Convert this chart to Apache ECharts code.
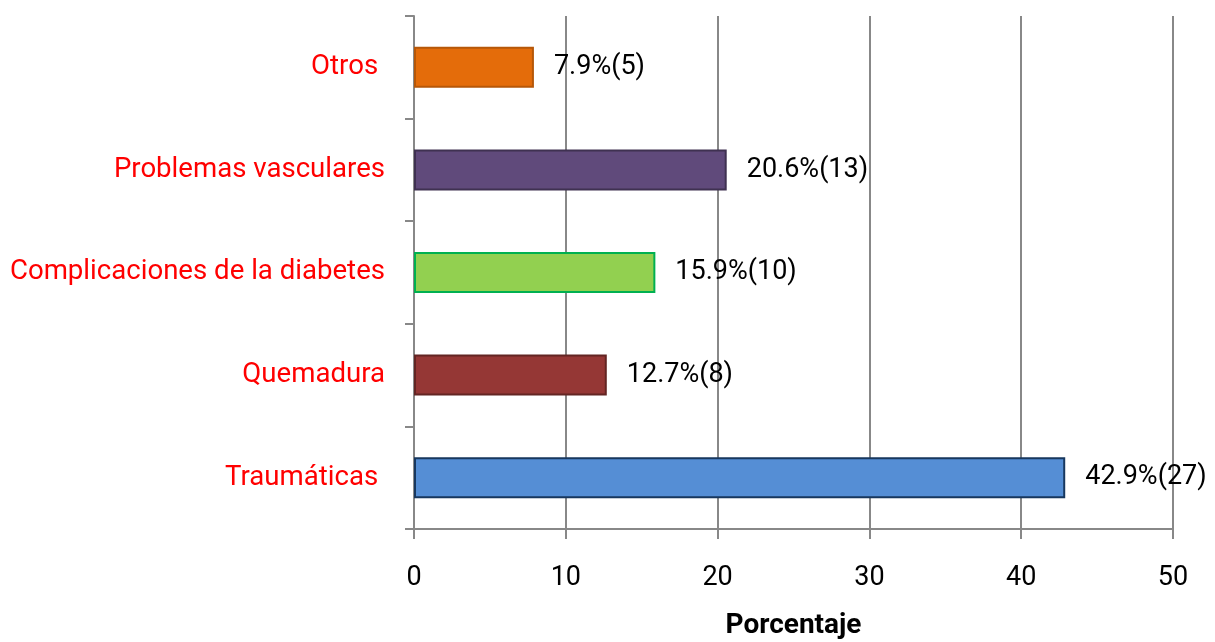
<!DOCTYPE html>
<html><head><meta charset="utf-8">
<script src="https://cdn.jsdelivr.net/npm/echarts@6/dist/echarts.min.js"></script>
<style>html,body{margin:0;padding:0;background:#fff}#c{width:1215px;height:642px}</style>
</head><body><div id="c"></div>
<script>
const categories = ['Traumáticas ', 'Quemadura', 'Complicaciones de la diabetes', 'Problemas vasculares', 'Otros '];
const values = [42.9, 12.7, 15.9, 20.6, 7.9];
const counts = [27, 8, 10, 13, 5];
const fills = ['#558ED5', '#953735', '#92D050', '#604A7B', '#E46C0A'];
const borders = ['#17375E', '#632523', '#00B050', '#3F3151', '#B65708'];
const xTicks = [0, 10, 20, 30, 40, 50];
const FONT = 'Roboto, "Open Sans", sans-serif';
const chart = echarts.init(document.getElementById('c'));
chart.setOption({
  animation: false,
  grid: {left: 414, right: 42, top: 16, bottom: 113, containLabel: false, outerBoundsMode: 'none'},
  xAxis: {
    type: 'value', min: xTicks[0], max: xTicks[xTicks.length-1], interval: 10,
    name: 'Porcentaje', nameLocation: 'middle', nameGap: 83,
    nameTextStyle: {fontFamily: FONT, fontWeight: 'bold', fontSize: 28, color: '#000'},
    axisLine: {show: true, lineStyle: {color: '#888', width: 2}},
    axisTick: {show: true, length: 10, lineStyle: {color: '#888', width: 2}},
    axisLabel: {margin: 36, fontFamily: FONT, fontSize: 27, color: '#000'},
    splitLine: {show: true, lineStyle: {color: '#888', width: 2}}
  },
  yAxis: {
    type: 'category', data: categories,
    axisLine: {show: true, lineStyle: {color: '#888', width: 2}},
    axisTick: {show: true, length: 9, lineStyle: {color: '#888', width: 2}},
    axisLabel: {margin: 29, fontFamily: FONT, fontSize: 27.6, color: '#FF0000'}
  },
  series: [{
    type: 'bar', barWidth: 41,
    data: values.map((v, i) => ({value: v, itemStyle: {color: fills[i], borderColor: borders[i], borderWidth: 2}})),
    label: {
      show: true, position: 'right', distance: 20,
      fontFamily: FONT, fontSize: 27, color: '#000',
      formatter: p => p.value + '%(' + counts[p.dataIndex] + ')'
    }
  }]
});
</script></body></html>
